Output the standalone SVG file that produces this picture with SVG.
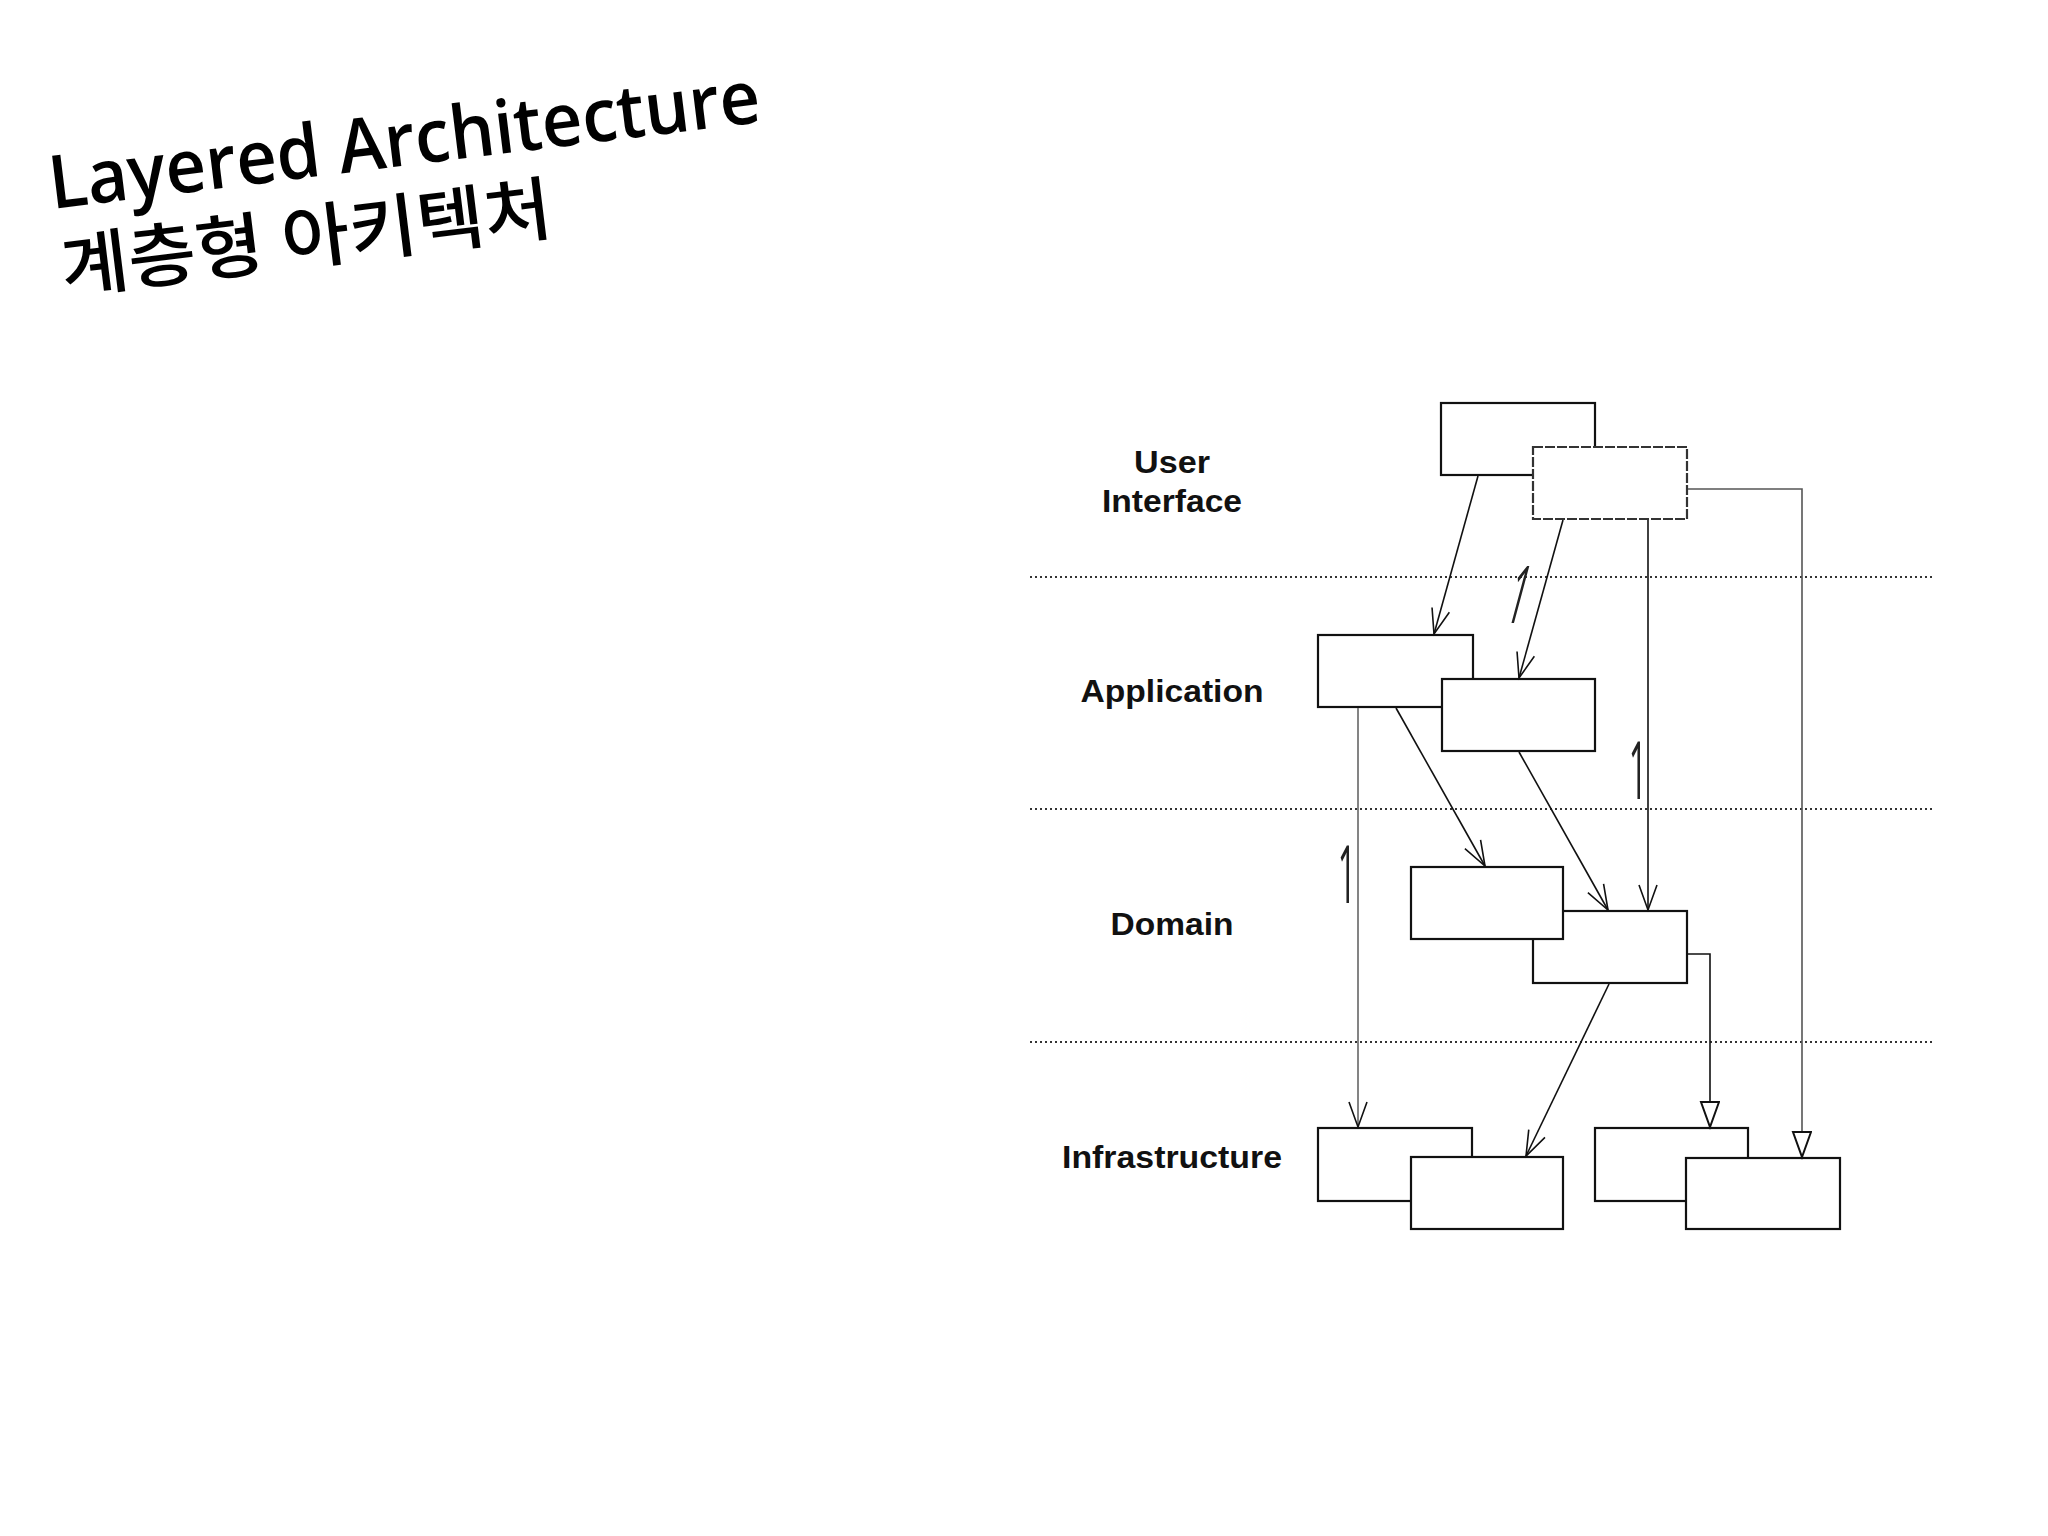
<svg xmlns="http://www.w3.org/2000/svg" width="2048" height="1536" viewBox="0 0 2048 1536">
  <style>
    .title { font-family: "Open Sans", "Noto Sans", "Noto Sans CJK KR", sans-serif; fill: #000; }
    .layer { font-family: "Liberation Sans", Arial, sans-serif; font-weight: bold; font-size: 32px; fill: #111; text-anchor: middle; }
    .box { fill: #fff; stroke: #111; stroke-width: 2.2; }
    .box-dash { fill: #fff; stroke: #333; stroke-width: 2.2; stroke-dasharray: 10 2; }
    .sep { stroke: #333; stroke-width: 2; stroke-dasharray: 2 3; fill: none; }
    .conn { fill: none; stroke: #111; stroke-width: 1.6; }
    .conn-grey { fill: none; stroke: #777; stroke-width: 1.8; }
    .conn-mid { fill: none; stroke: #555; stroke-width: 1.6; }
    .mark { font-family: "Open Sans", "Noto Sans", sans-serif; font-size: 80px; fill: #222; text-anchor: middle; }
  </style>
  <defs>
    <marker id="open" markerUnits="userSpaceOnUse" markerWidth="30" markerHeight="24" refX="26" refY="10" orient="auto">
      <path d="M1,1 L26,10 L1,19" fill="none" stroke="#111" stroke-width="1.6"/>
    </marker>
    <marker id="tri" markerUnits="userSpaceOnUse" markerWidth="30" markerHeight="24" refX="26" refY="10" orient="auto">
      <path d="M1,1 L26,10 L1,19 Z" fill="#fff" stroke="#111" stroke-width="2"/>
    </marker>
  </defs>
  <rect width="2048" height="1536" fill="#fff"/>

  <g id="title">
    <text class="title" x="52" y="209" font-size="74" font-weight="600" textLength="716" lengthAdjust="spacingAndGlyphs" transform="rotate(-7 52 209)">Layered Architecture</text>
    <text class="title" x="64" y="293" font-size="70" font-weight="500" textLength="494" lengthAdjust="spacingAndGlyphs" transform="rotate(-7 64 293)">계층형 아키텍처</text>
  </g>

  <g id="layer-labels">
    <text class="layer" x="1172" y="473" textLength="76" lengthAdjust="spacingAndGlyphs">User</text>
    <text class="layer" x="1172" y="512" textLength="140" lengthAdjust="spacingAndGlyphs">Interface</text>
    <text class="layer" x="1172" y="702" textLength="183" lengthAdjust="spacingAndGlyphs">Application</text>
    <text class="layer" x="1172" y="935" textLength="123" lengthAdjust="spacingAndGlyphs">Domain</text>
    <text class="layer" x="1172" y="1168" textLength="220" lengthAdjust="spacingAndGlyphs">Infrastructure</text>
  </g>

  <g id="separators">
    <line class="sep" x1="1030" y1="577" x2="1933" y2="577"/>
    <line class="sep" x1="1030" y1="809" x2="1933" y2="809"/>
    <line class="sep" x1="1030" y1="1042" x2="1933" y2="1042"/>
  </g>

  <g id="ui-1"><rect class="box" x="1441" y="403" width="154" height="72"/></g>
  <g id="ui-2"><rect class="box-dash" x="1533" y="447" width="154" height="72"/></g>
  <g id="app-1"><rect class="box" x="1318" y="635" width="155" height="72"/></g>
  <g id="app-2"><rect class="box" x="1442" y="679" width="153" height="72"/></g>
  <g id="domain-2"><rect class="box" x="1533" y="911" width="154" height="72"/></g>
  <g id="domain-1"><rect class="box" x="1411" y="867" width="152" height="72"/></g>
  <g id="infra-1a"><rect class="box" x="1318" y="1128" width="154" height="73"/></g>
  <g id="infra-1b"><rect class="box" x="1411" y="1157" width="152" height="72"/></g>
  <g id="infra-2a"><rect class="box" x="1595" y="1128" width="153" height="73"/></g>
  <g id="infra-2b"><rect class="box" x="1686" y="1158" width="154" height="71"/></g>

  <g id="connectors">
    <line class="conn" x1="1478" y1="476" x2="1434" y2="634" marker-end="url(#open)"/>
    <line class="conn" x1="1563" y1="520" x2="1519" y2="678" marker-end="url(#open)"/>
    <line class="conn" x1="1648" y1="520" x2="1648" y2="910" stroke-width="2" marker-end="url(#open)"/>
    <path class="conn-mid" d="M1688,489 H1802 V1157" marker-end="url(#tri)"/>
    <line class="conn-grey" x1="1358" y1="708" x2="1358" y2="1127" marker-end="url(#open)"/>
    <line class="conn" x1="1396" y1="708" x2="1485" y2="866" marker-end="url(#open)"/>
    <line class="conn" x1="1519" y1="752" x2="1608" y2="910" marker-end="url(#open)"/>
    <line class="conn" x1="1609" y1="984" x2="1526" y2="1156" marker-end="url(#open)"/>
    <path class="conn" d="M1688,954 H1710 V1127" stroke-width="2" marker-end="url(#tri)"/>
  </g>

  <g id="annotations">
    <text class="mark" transform="translate(1512,623) skewX(-15) scale(0.4,1)">1</text>
    <text class="mark" transform="translate(1638,799) scale(0.4,1)">1</text>
    <text class="mark" transform="translate(1347,903) scale(0.4,1)">1</text>
  </g>
</svg>
